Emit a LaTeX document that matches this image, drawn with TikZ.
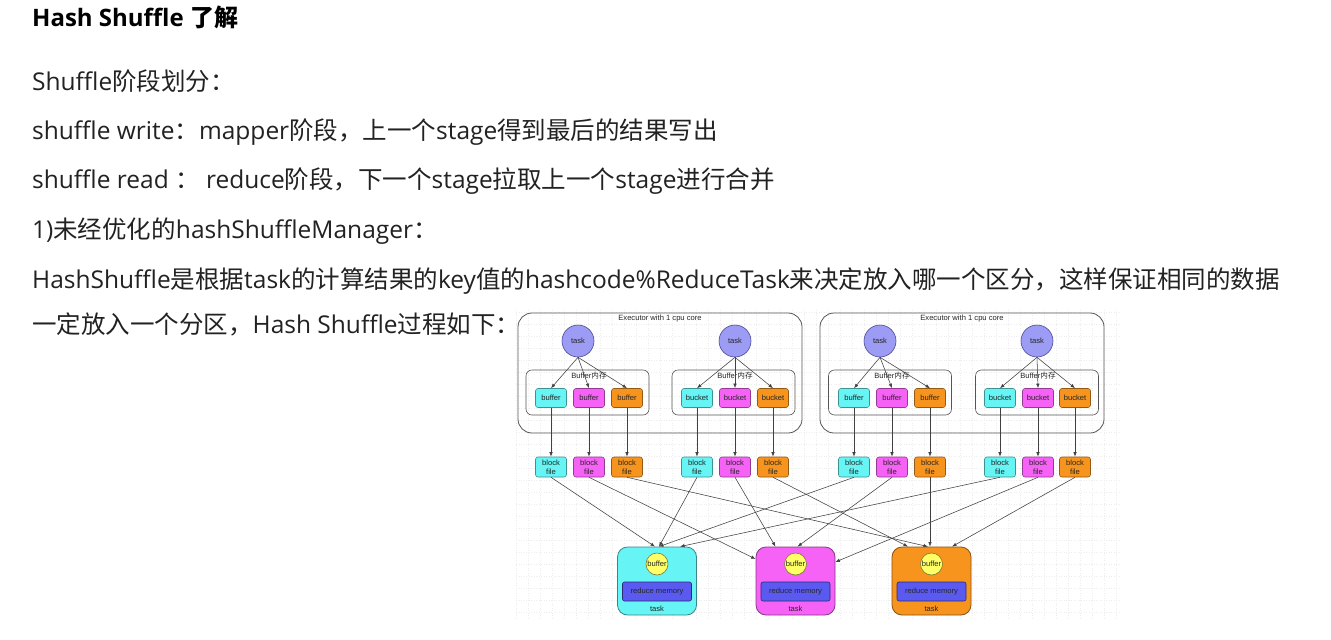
\documentclass[tikz,border=0pt]{standalone}
\usepackage{fontspec}
\setmainfont{Open Sans}
\newfontfamily\cjk{Noto Sans CJK SC}
\newfontfamily\dfont{Liberation Sans}
\usetikzlibrary{arrows.meta}
\definecolor{txt}{HTML}{222222}
\definecolor{cyf}{HTML}{66F4F4}
\definecolor{cyd}{HTML}{2E8C8C}
\definecolor{mgf}{HTML}{F562F5}
\definecolor{mgd}{HTML}{8E2E8E}
\definecolor{orf}{HTML}{F7941E}
\definecolor{ord}{HTML}{8A5510}
\definecolor{tkf}{HTML}{9C9CF5}
\definecolor{tkd}{HTML}{4A4A9A}
\definecolor{ylf}{HTML}{FFFF66}
\definecolor{yld}{HTML}{7A7A30}
\definecolor{rmf}{HTML}{5A5AF0}
\definecolor{rmd}{HTML}{2A2A7A}
\definecolor{frame}{HTML}{555555}
\tikzset{
  body/.style={anchor=base west, inner sep=0pt, text=txt, font=\fontsize{24.5}{27}\selectfont},
  dtext/.style={inner sep=0pt, font=\dfont\fontsize{7.6}{8.6}\selectfont, text=black!85},
  execbox/.style={draw=frame, line width=0.8pt, rounded corners=14pt, minimum width=284pt, minimum height=120pt, inner sep=0pt},
  bufbox/.style={draw=frame, line width=0.6pt, rounded corners=6pt, minimum width=123pt, minimum height=45pt, inner sep=0pt},
  taskc/.style={circle, draw=tkd, fill=tkf, line width=0.6pt, minimum size=32pt, inner sep=0pt, font=\dfont\fontsize{7.6}{8.6}\selectfont, text=black!85},
  sbox/.style={draw=#1!60!black, fill=#1, line width=0.6pt, rounded corners=2.5pt, minimum width=31pt, minimum height=19pt, inner sep=0pt, align=center, font=\dfont\fontsize{7.6}{8.6}\selectfont, text=black!85},
  fbox/.style={sbox=#1, minimum height=20pt},
  redbox/.style={draw=#1!55!black, fill=#1, line width=0.8pt, rounded corners=10pt, minimum width=79pt, minimum height=68pt, inner sep=0pt},
  ybuf/.style={circle, draw=yld, fill=ylf, line width=0.6pt, minimum size=22pt, inner sep=0pt, font=\dfont\fontsize{7.6}{8.6}\selectfont, text=black!85},
  rmem/.style={draw=rmd, fill=rmf, line width=0.6pt, rounded corners=2pt, minimum width=69pt, minimum height=19pt, inner sep=0pt, font=\dfont\fontsize{7.6}{8.6}\selectfont, text=black!85},
  arr/.style={draw=black!75, line width=0.55pt, -{Latex[length=4.5pt,width=3.4pt]}},
}
\begin{document}
\begin{tikzpicture}[x=1pt,y=-1pt]
\useasboundingbox (0,0) rectangle (1331,640);
\fill[white] (0,0) rectangle (1331,640);

% ---------- text ----------
\node[body, font=\bfseries\fontsize{24}{27}\selectfont, text=black] (title) at (32,26) {Hash Shuffle {\cjk\bfseries 了解}};
\node[body] (l1) at (32,90) {Shuffle{\cjk 阶段划分：}};
\node[body] (l2) at (32,139) {shuffle write{\cjk ：}mapper{\cjk 阶段，上一个}stage{\cjk 得到最后的结果写出}};
\node[body] (l3) at (32,188) {shuffle read {\cjk ：} reduce{\cjk 阶段，下一个}stage{\cjk 拉取上一个}stage{\cjk 进行合并}};
\node[body] (l4) at (32,238) {1){\cjk 未经优化的}hashShuffleManager{\cjk ：}};
\node[body] (l5) at (32,288) {HashShuffle{\cjk 是根据}task{\cjk 的计算结果的}key{\cjk 值的}hashcode\%ReduceTask{\cjk 来决定放入哪一个区分，这样保证相同的数据}};
\node[body] (l6) at (32,333) {{\cjk 一定放入一个分区，}Hash Shuffle{\cjk 过程如下：}};

% ---------- diagram background grid ----------
\draw[black!7, line width=0.5pt, dash pattern=on 0.5pt off 2pt, step=12pt] (516,310) grid (1120,618);

% ---------- executors ----------
\node[execbox] (ex1) at (660,373) {};
\node[execbox] (ex2) at (962,373) {};
\node[dtext] (ex1t) at (660,319) {Executor with 1 cpu core};
\node[dtext] (ex2t) at (962,319) {Executor with 1 cpu core};

\node[bufbox] (bb1) at (587.5,392.5) {};
\node[bufbox] (bb2) at (733.5,392.5) {};
\node[bufbox] (bb3) at (890,392.5) {};
\node[bufbox] (bb4) at (1037,392.5) {};
\node[dtext] (bb1t) at (589,376) {Buffer{\cjk 内存}};
\node[dtext] (bb2t) at (735,376) {Buffer{\cjk 内存}};
\node[dtext] (bb3t) at (892,376) {Buffer{\cjk 内存}};
\node[dtext] (bb4t) at (1038,376) {Buffer{\cjk 内存}};

\node[taskc] (t1) at (578,341) {task};
\node[taskc] (t2) at (735,341) {task};
\node[taskc] (t3) at (880,341) {task};
\node[taskc] (t4) at (1037,341) {task};

% buffers / buckets
\node[sbox=cyf] (b11) at (551,398) {buffer};
\node[sbox=mgf] (b12) at (589,398) {buffer};
\node[sbox=orf] (b13) at (627,398) {buffer};
\node[sbox=cyf] (b21) at (697,398) {bucket};
\node[sbox=mgf] (b22) at (735,398) {bucket};
\node[sbox=orf] (b23) at (773,398) {bucket};
\node[sbox=cyf] (b31) at (854,398) {buffer};
\node[sbox=mgf] (b32) at (892,398) {buffer};
\node[sbox=orf] (b33) at (930,398) {buffer};
\node[sbox=cyf] (b41) at (1000,398) {bucket};
\node[sbox=mgf] (b42) at (1038,398) {bucket};
\node[sbox=orf] (b43) at (1075,398) {bucket};

% block files
\node[fbox=cyf] (f11) at (551,467) {block\\file};
\node[fbox=mgf] (f12) at (589,467) {block\\file};
\node[fbox=orf] (f13) at (627,467) {block\\file};
\node[fbox=cyf] (f21) at (697,467) {block\\file};
\node[fbox=mgf] (f22) at (735,467) {block\\file};
\node[fbox=orf] (f23) at (773,467) {block\\file};
\node[fbox=cyf] (f31) at (854,467) {block\\file};
\node[fbox=mgf] (f32) at (892,467) {block\\file};
\node[fbox=orf] (f33) at (930,467) {block\\file};
\node[fbox=cyf] (f41) at (1000,467) {block\\file};
\node[fbox=mgf] (f42) at (1038,467) {block\\file};
\node[fbox=orf] (f43) at (1075,467) {block\\file};

% task -> buffer arrows, buffer -> block file arrows
\foreach \g in {1,2,3,4}{
  \foreach \c in {1,2,3}{
    \draw[arr] (t\g.south) -- (b\g\c.north);
    \draw[arr] (b\g\c.south) -- (f\g\c.north);
  }
}

% ---------- reduce tasks ----------
\node[redbox=cyf] (rc) at (657,581) {};
\node[redbox=mgf] (rm) at (795.5,581) {};
\node[redbox=orf] (ro) at (931.5,581) {};
\foreach \r/\x in {rc/657, rm/795.5, ro/931.5}{
  \node[ybuf] (\r y) at (\x,564) {buffer};
  \node[rmem] (\r m) at (\x,591.5) {reduce memory};
  \node[dtext] (\r t) at (\x,609) {task};
}

% ---------- shuffle connectors ----------
\draw[arr] (f11.south) -- ([xshift=-2pt]rc.north);
\draw[arr] (f21.south) -- ([xshift=2pt]rc.north);
\draw[arr] (f31.south) -- ([xshift=2pt]rc.north);
\draw[arr] (f41.south) -- ([xshift=23pt]rc.north);
\draw[arr] (f12.south) -- ([yshift=22pt]rm.west);
\draw[arr] (f22.south) -- ([xshift=-20pt]rm.north);
\draw[arr] (f32.south) -- ([xshift=2pt]rm.north);
\draw[arr] (f42.south) -- ([yshift=19pt]rm.east);
\draw[arr] (f13.south) -- ([xshift=-3.5pt]ro.north);
\draw[arr] (f23.south) -- ([xshift=-23.5pt]ro.north);
\draw[arr] (f33.south) -- (ro.north -| f33.south);
\draw[arr] (f43.south) -- ([xshift=20.5pt]ro.north);
\end{tikzpicture}
\end{document}
